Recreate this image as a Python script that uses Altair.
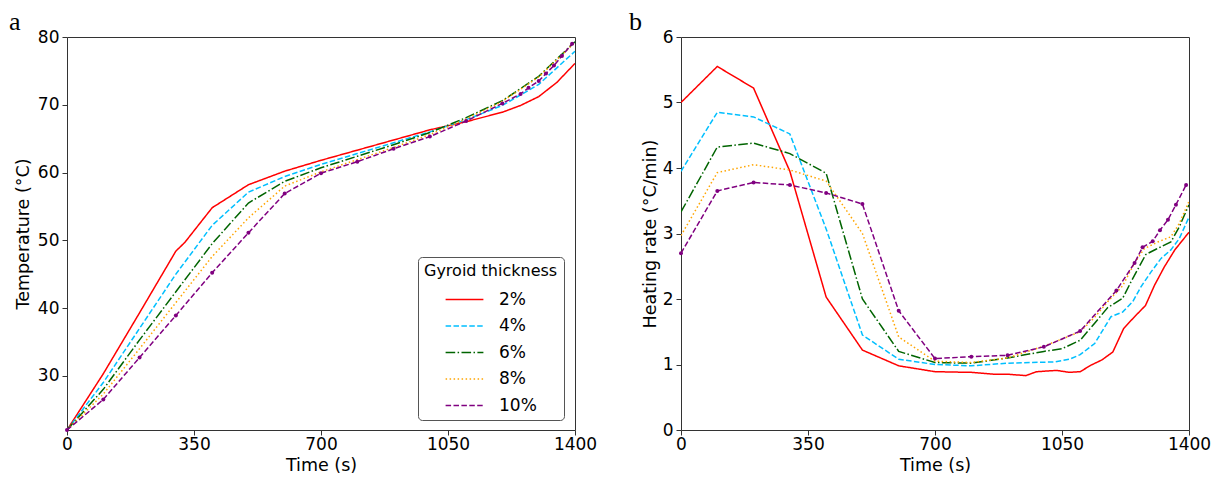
import altair as alt
import pandas as pd

SERIES = ["2%", "4%", "6%", "8%", "10%"]
COLORS = ["#ff0000", "#00bfff", "#006400", "#ffa500", "#800080"]
DASHES = [[1, 0], [5.5, 2.4], [9.6, 2.4, 1.5, 2.4], [1.5, 2.5], [5.5, 2.4]]

X_TICKS = [0, 350, 700, 1050, 1400]
TEMP_TICKS = [30, 40, 50, 60, 70, 80]
RATE_TICKS = [0, 1, 2, 3, 4, 5, 6]
PANEL_LABELS = ["a", "b"]

# ---- panel a: temperature (°C) ----
TIME_STD = [0, 100, 200, 300, 400, 500, 600, 700, 800, 900, 1000, 1100, 1200, 1300, 1400]
TIME_10 = [0, 100, 200, 300, 400, 500, 600, 700, 800, 900, 1000, 1100, 1200,
           1250, 1272, 1300, 1320, 1342, 1364, 1392]

TEMP_TIME_2 = [0, 100, 200, 300, 325, 400, 500, 600, 700, 800, 900, 1000, 1100, 1200, 1250, 1300, 1350, 1400]
TEMP_2 = [22, 30.3, 39.3, 48.4, 49.7, 54.8, 58.2, 60.2, 61.8, 63.3, 64.8, 66.3, 67.5, 68.9, 69.9, 71.2, 73.3, 76.1]
TEMP_4 = [22, 29.0, 37.0, 45.0, 52.2, 57.1, 59.4, 61.2, 62.8, 64.4, 66.0, 67.8, 69.9, 73.0, 77.9]
TEMP_6 = [22, 28.0, 35.3, 42.4, 49.5, 55.5, 58.7, 60.7, 62.4, 64.1, 65.9, 68.1, 70.6, 74.2, 79.3]
TEMP_8 = [22, 27.3, 34.0, 40.8, 47.6, 53.3, 58.0, 60.1, 61.9, 63.7, 65.6, 67.9, 70.5, 74.1, 79.2]
TEMP_10 = [22, 26.5, 32.7, 38.9, 45.2, 51.1, 56.9, 59.9, 61.6, 63.5, 65.3, 67.6, 70.2,
           71.6, 72.5, 73.5, 74.6, 75.8, 77.2, 79.0]

# ---- panel b: heating rate (°C/min) ----
RATE_TIME_2 = [0, 100, 200, 300, 400, 500, 600, 700, 800, 865, 905, 950, 980, 1035, 1070, 1100,
               1130, 1160, 1190, 1220, 1250, 1280, 1305, 1332, 1361, 1400]
RATE_2 = [5.0, 5.55, 5.22, 3.95, 2.03, 1.22, 0.98, 0.89, 0.88, 0.85, 0.85, 0.83, 0.89, 0.91, 0.88, 0.89,
          0.99, 1.07, 1.19, 1.55, 1.73, 1.90, 2.21, 2.49, 2.75, 3.02]
RATE_TIME_4 = [0, 100, 200, 300, 400, 500, 600, 700, 800, 900, 1030, 1070, 1100, 1140, 1185, 1217,
               1245, 1268, 1295, 1323, 1350, 1373, 1400]
RATE_4 = [3.95, 4.85, 4.78, 4.52, 3.07, 1.45, 1.08, 1.0, 0.98, 1.02, 1.04, 1.08, 1.15, 1.32, 1.73, 1.80,
          1.96, 2.19, 2.41, 2.62, 2.75, 2.92, 3.25]
RATE_TIME_6 = [0, 100, 200, 300, 400, 500, 600, 700, 800, 900, 1000, 1050, 1100, 1140, 1176, 1217,
               1240, 1281, 1309, 1350, 1373, 1400]
RATE_6 = [3.33, 4.32, 4.38, 4.22, 3.92, 2.0, 1.2, 1.03, 1.02, 1.10, 1.20, 1.24, 1.37, 1.63, 1.87, 2.01,
          2.26, 2.68, 2.76, 2.87, 3.10, 3.44]
RATE_TIME_8 = [0, 100, 200, 300, 400, 500, 600, 700, 800, 900, 1000, 1100, 1140, 1176, 1217, 1250,
               1277, 1314, 1350, 1373, 1400]
RATE_8 = [2.97, 3.93, 4.05, 3.97, 3.80, 3.0, 1.42, 1.05, 1.03, 1.10, 1.28, 1.50, 1.72, 1.96, 2.2, 2.55,
          2.77, 2.87, 2.95, 3.15, 3.49]
RATE_10 = [2.7, 3.65, 3.78, 3.74, 3.62, 3.45, 1.82, 1.09, 1.12, 1.14, 1.27, 1.51, 2.13,
           2.55, 2.79, 2.88, 3.05, 3.21, 3.44, 3.74]


def frame(parts):
    rows = []
    for name, times, values in parts:
        for t, v in zip(times, values):
            rows.append({"t": t, "v": v, "s": name})
    return pd.DataFrame(rows)


temp_df = frame([
    ("2%", TEMP_TIME_2, TEMP_2),
    ("4%", TIME_STD, TEMP_4),
    ("6%", TIME_STD, TEMP_6),
    ("8%", TIME_STD, TEMP_8),
    ("10%", TIME_10, TEMP_10),
])
rate_df = frame([
    ("2%", RATE_TIME_2, RATE_2),
    ("4%", RATE_TIME_4, RATE_4),
    ("6%", RATE_TIME_6, RATE_6),
    ("8%", RATE_TIME_8, RATE_8),
    ("10%", TIME_10, RATE_10),
])

FONT = "DejaVu Sans"

legend = alt.Legend(
    orient="none", legendX=351, legendY=220,
    title="Gyroid thickness", titleFont=FONT, titleFontSize=16, titleFontWeight="normal",
    titleColor="black", titlePadding=6,
    labelFont=FONT, labelFontSize=17, labelColor="black", labelOffset=20,
    symbolType="M-1.4,0H1.4", symbolSize=729, symbolStrokeWidth=1.5, symbolOffset=26,
    rowPadding=3.5, padding=6, strokeColor="#555", cornerRadius=4, fillColor="white",
)


def panel(df, ydomain, yticks, ytitle, label, dx, show_legend, ytitle_pad):
    base = alt.Chart(df)
    x = alt.X("t:Q", scale=alt.Scale(domain=[0, 1400], nice=False),
              axis=alt.Axis(values=X_TICKS, title="Time (s)", format="d"))
    y = alt.Y("v:Q", scale=alt.Scale(domain=ydomain, nice=False, zero=False),
              axis=alt.Axis(values=yticks, title=ytitle, titlePadding=ytitle_pad, format="d"))
    lines = base.mark_line(strokeWidth=1.5, clip=True).encode(
        x=x, y=y,
        color=alt.Color("s:N", scale=alt.Scale(domain=SERIES, range=COLORS),
                        legend=legend if show_legend else None),
        strokeDash=alt.StrokeDash("s:N", scale=alt.Scale(domain=SERIES, range=DASHES),
                                  legend=legend if show_legend else None),
    )
    pts = base.transform_filter(alt.datum.s == "10%").mark_circle(
        size=16, color="#800080", opacity=1).encode(x="t:Q", y="v:Q")
    tag = alt.Chart(pd.DataFrame({"lab": [label]})).mark_text(
        font="Liberation Serif", fontSize=26, align="left", baseline="alphabetic", color="black"
    ).encode(text="lab:N", x=alt.value(dx), y=alt.value(-7))
    return alt.layer(lines, pts, tag).properties(width=508, height=393)


left = panel(temp_df, [22, 80], TEMP_TICKS, "Temperature (°C)", PANEL_LABELS[0], -58, True, 5)
right = panel(rate_df, [0, 6], RATE_TICKS, "Heating rate (°C/min)", PANEL_LABELS[1], -52, False, 3)

chart = alt.hconcat(left, right, spacing=106, bounds="flush", padding=0).resolve_scale(
    color="independent", strokeDash="independent"
).configure_view(stroke="#333", strokeWidth=1).configure_axis(
    grid=False, domain=False, tickColor="#333", tickSize=5,
    labelFont=FONT, labelFontSize=17, labelColor="black", labelFlush=False,
    titleFont=FONT, titleFontSize=17.5, titleFontWeight="normal", titleColor="black",
).configure_axisX(labelPadding=1, titlePadding=4).configure_axisY(labelPadding=3)

chart.save("out.html", embed_options={"renderer": "svg", "actions": False})
